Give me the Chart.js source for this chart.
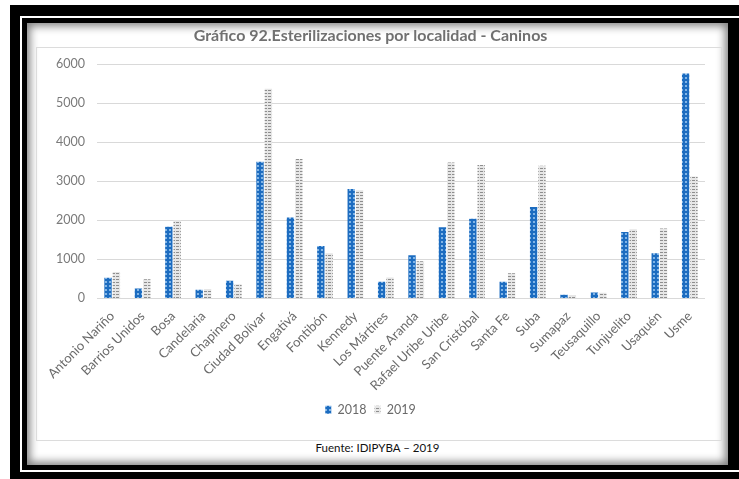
<!DOCTYPE html>
<html>
<head>
<meta charset="utf-8">
<script src="https://cdn.jsdelivr.net/npm/chart.js@4/dist/chart.umd.min.js"></script>
<style>
  body { margin: 0; background: #fff; width: 739px; height: 479px; overflow: hidden; font-family: Lato, sans-serif; }
  .abs { position: absolute; box-sizing: border-box; }
  #outer { left: 10px; top: 5px; width: 729px; height: 474px; background: #000; }
  #thin { left: 20px; top: 16px; width: 719px; height: 456px; border: 2px solid #fff; border-right: none; }
  #panel { left: 27px; top: 23px; width: 701px; height: 442px; background: #fff; box-shadow: inset 0 0 9px 3px rgba(0,0,0,0.5); }
  #box { left: 36px; top: 47px; width: 686px; height: 394px; border: 1px solid #dcdcdc; }
  #chart { left: 36px; top: 24px; }
  #foot { left: 27px; top: 441px; width: 701px; text-align: center; font-size: 11.5px; color: #111; }
</style>
</head>
<body>
<div id="outer" class="abs"></div>
<div id="thin" class="abs"></div>
<div id="panel" class="abs"></div>
<div id="box" class="abs"></div>
<canvas id="chart" class="abs" width="686" height="416"></canvas>
<div id="foot" class="abs">Fuente: IDIPYBA – 2019</div>
<script>
const localidades = ['Antonio Nariño', 'Barrios Unidos', 'Bosa', 'Candelaria', 'Chapinero', 'Ciudad Bolívar',
    'Engativá', 'Fontibón', 'Kennedy', 'Los Mártires', 'Puente Aranda', 'Rafael Uribe Uribe',
    'San Cristóbal', 'Santa Fe', 'Suba', 'Sumapaz', 'Teusaquillo', 'Tunjuelito', 'Usaquén', 'Usme'];
const values2018 = [530, 255, 1835, 220, 450, 3500, 2070, 1340, 2800, 425, 1105, 1825, 2040, 425, 2345, 95, 155, 1700, 1155, 5760];
const values2019 = [680, 490, 2005, 240, 365, 5370, 3570, 1155, 2770, 535, 950, 3480, 3420, 645, 3400, 85, 145, 1770, 1790, 3125];
const yTicks = [0, 1000, 2000, 3000, 4000, 5000, 6000];

// bar fills: blue with light dots, grey with dashes
const makePattern = (w, h, draw) => {
    const c = document.createElement('canvas');
    c.width = w; c.height = h;
    draw(c.getContext('2d'));
    return c.getContext('2d').createPattern(c, 'repeat');
};
const bluePattern = makePattern(4, 4, g => {
    g.fillStyle = '#1c6cc0';
    g.fillRect(0, 0, 4, 4);
    g.fillStyle = 'rgba(170,210,245,0.9)';
    g.beginPath();
    g.arc(2, 2, 1.1, 0, Math.PI * 2);
    g.fill();
});
const greyPattern = makePattern(4, 3, g => {
    g.fillStyle = '#e6e6e6';
    g.fillRect(0, 0, 4, 3);
    g.fillStyle = '#8e8e8e';
    g.fillRect(0, 0, 3, 1);
});

Chart.defaults.font.family = 'Lato, sans-serif';
Chart.defaults.color = '#6a6a6a';

new Chart(document.getElementById('chart'), {
    type: 'bar',
    data: {
        labels: localidades,
        datasets: [
            { label: '2018', data: values2018, backgroundColor: bluePattern },
            { label: '2019', data: values2019, backgroundColor: greyPattern }
        ]
    },
    options: {
        responsive: false,
        animation: false,
        datasets: { bar: { categoryPercentage: 0.55, barPercentage: 0.88 } },
        layout: { padding: { left: 0, right: 17, top: 0, bottom: 14 } },
        plugins: {
            title: {
                display: true,
                text: 'Gráfico 92.Esterilizaciones por localidad - Caninos',
                color: '#707070',
                font: { size: 16, weight: 'bold' },
                padding: { top: 2, bottom: 19 }
            },
            legend: {
                position: 'bottom',
                labels: { boxWidth: 6, boxHeight: 8, padding: 8, font: { size: 12.5 } }
            },
            tooltip: { enabled: false }
        },
        scales: {
            x: {
                grid: { display: false },
                border: { display: false },
                ticks: { minRotation: 45, maxRotation: 45, autoSkip: false, font: { size: 13 }, padding: 2 }
            },
            y: {
                min: 0,
                max: 6000,
                afterFit: s => { s.width = 61; },
                afterBuildTicks: s => { s.ticks = yTicks.map(v => ({ value: v })); },
                grid: { color: '#d9d9d9', drawTicks: false },
                border: { display: false },
                ticks: { font: { size: 12.5 }, padding: 12, color: '#7a7a7a', callback: v => String(v) }
            }
        }
    }
});
</script>
</body>
</html>
